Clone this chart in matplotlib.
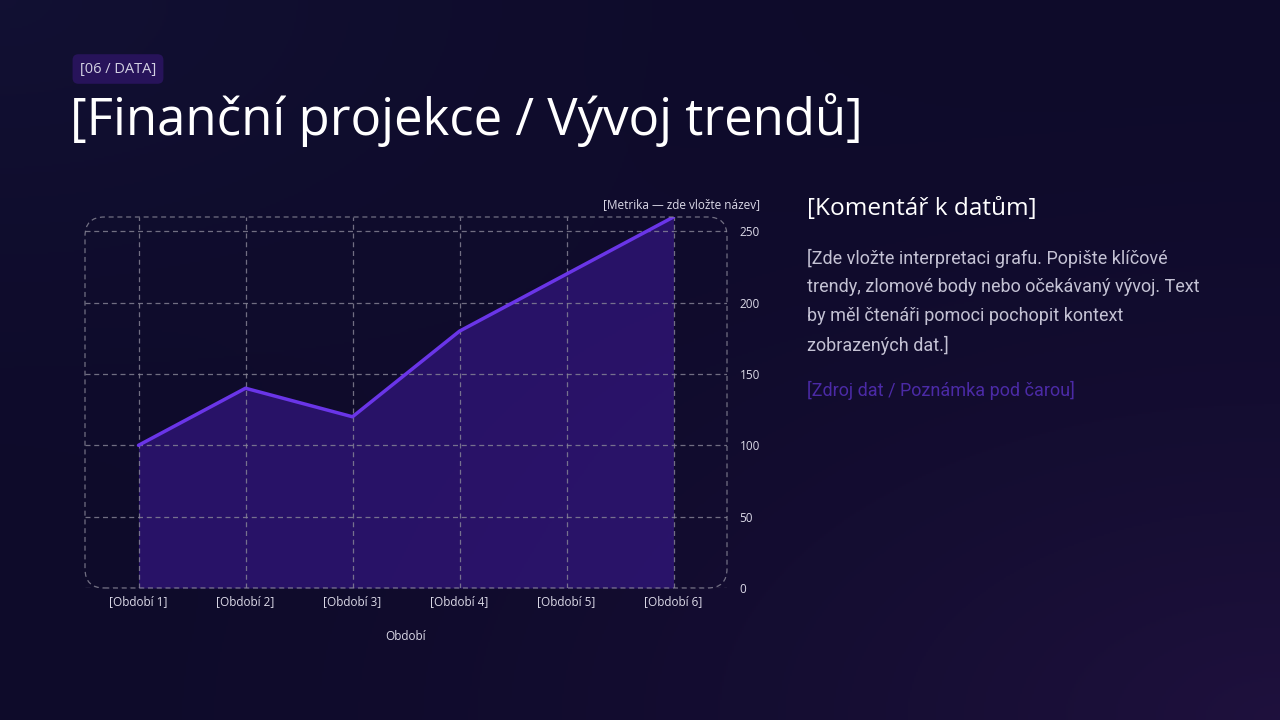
import numpy as np
import matplotlib.pyplot as plt
from matplotlib.patches import FancyBboxPatch

periods = ['[Období 1]', '[Období 2]', '[Období 3]', '[Období 4]', '[Období 5]', '[Období 6]']
values = [100, 140, 120, 180, 220, 260]
yticks = [0, 50, 100, 150, 200, 250]

tag = '[06 / DATA]'
title = '[Finanční projekce / Vývoj trendů]'
metric_label = '[Metrika — zde vložte název]'
x_label = 'Období'
comment_title = '[Komentář k datům]'
comment_lines = ['[Zde vložte interpretaci grafu. Popište klíčové',
                 'trendy, zlomové body nebo očekávaný vývoj. Text',
                 'by měl čtenáři pomoci pochopit kontext',
                 'zobrazených dat.]']
source = '[Zdroj dat / Poznámka pod čarou]'

plt.rcParams['font.family'] = ['Open Sans', 'DejaVu Sans']

fig = plt.figure(figsize=(12.8, 7.2), dpi=100)

# background gradient
bg = fig.add_axes([0, 0, 1, 1], zorder=-10)
yy, xx = np.mgrid[0:1:360j, 0:1:640j]
base = np.array([0.055, 0.043, 0.165])
purple = np.array([0.12, 0.065, 0.24])
blue = np.array([0.075, 0.07, 0.21])
r = np.clip(np.hypot(xx - 1.0, yy - 1.0) / 1.1, 0, 1)
t = (1 - r) ** 2
s = np.clip(1 - np.hypot(xx, yy) / 0.9, 0, 1) ** 2
img = base + t[..., None] * (purple - base) + s[..., None] * (blue - base) * 0.8
bg.imshow(img, extent=[0, 1, 0, 1], origin='upper', aspect='auto')
bg.set_xlim(0, 1)
bg.set_ylim(0, 1)
bg.axis('off')

# tag + title
fig.text(118 / 1280, 1 - 69 / 720, tag, ha='center', va='center', fontsize=10.5,
         color='#d2d0e2',
         bbox=dict(boxstyle='round,pad=0.5,rounding_size=0.4', fc='#27135a', ec='none'))
fig.text(70 / 1280, 1 - 120 / 720, title, ha='left', va='center', fontsize=36.6,
         color='white')

# chart
ax = fig.add_axes([85 / 1280, 1 - 588 / 720, 642 / 1280, 371 / 720])
ax.set_facecolor('none')
x = np.arange(len(periods))
ax.fill_between(x, values, 0, color='#3a1890', alpha=0.6, lw=0, zorder=1)
ax.plot(x, values, color='#6a35e8', lw=2.5, zorder=3, solid_capstyle='round')
ax.set_xlim(-0.5, len(periods) - 0.5)
ax.set_ylim(0, 260)
ax.set_xticks(x)
ax.set_xticklabels(periods)
ax.set_yticks(yticks)
ax.yaxis.tick_right()
ax.tick_params(length=0, colors='#dcdae8', labelsize=8.5)
ax.tick_params(axis='x', pad=5)
ax.tick_params(axis='y', pad=9)
ax.grid(True, color='#8a8898', ls=(0, (4, 3)), lw=0.9, alpha=0.8, zorder=2)
ax.set_axisbelow(False)
for sp in ax.spines.values():
    sp.set_visible(False)
ax.set_xlabel(x_label, color='#dcdae8', fontsize=8.5, labelpad=16)
frame = FancyBboxPatch((0, 0), 1, 1, boxstyle='round,pad=0,rounding_size=0.03',
                       transform=ax.transAxes, fc='none', ec='#8a8898',
                       ls=(0, (4, 3)), lw=0.9, alpha=0.8, clip_on=False, zorder=4,
                       mutation_aspect=642 / 371)
ax.add_patch(frame)
fig.text(760 / 1280, 1 - 205 / 720, metric_label, ha='right', va='center',
         fontsize=8.5, color='#dcdae8')

# commentary
fig.text(807 / 1280, 1 - 209 / 720, comment_title, ha='left', va='center',
         fontsize=17.6, color='white')
for i, line in enumerate(comment_lines):
    fig.text(807 / 1280, 1 - (258 + 29 * i) / 720, line, ha='left', va='center',
             fontsize=13.0, color='#c4c2d4', family=['Roboto', 'DejaVu Sans'])
fig.text(807 / 1280, 1 - 390 / 720, source, ha='left', va='center',
         fontsize=13.0, color='#4b2aa6', family=['Roboto', 'DejaVu Sans'])

fig.savefig('out.png', dpi=100)
